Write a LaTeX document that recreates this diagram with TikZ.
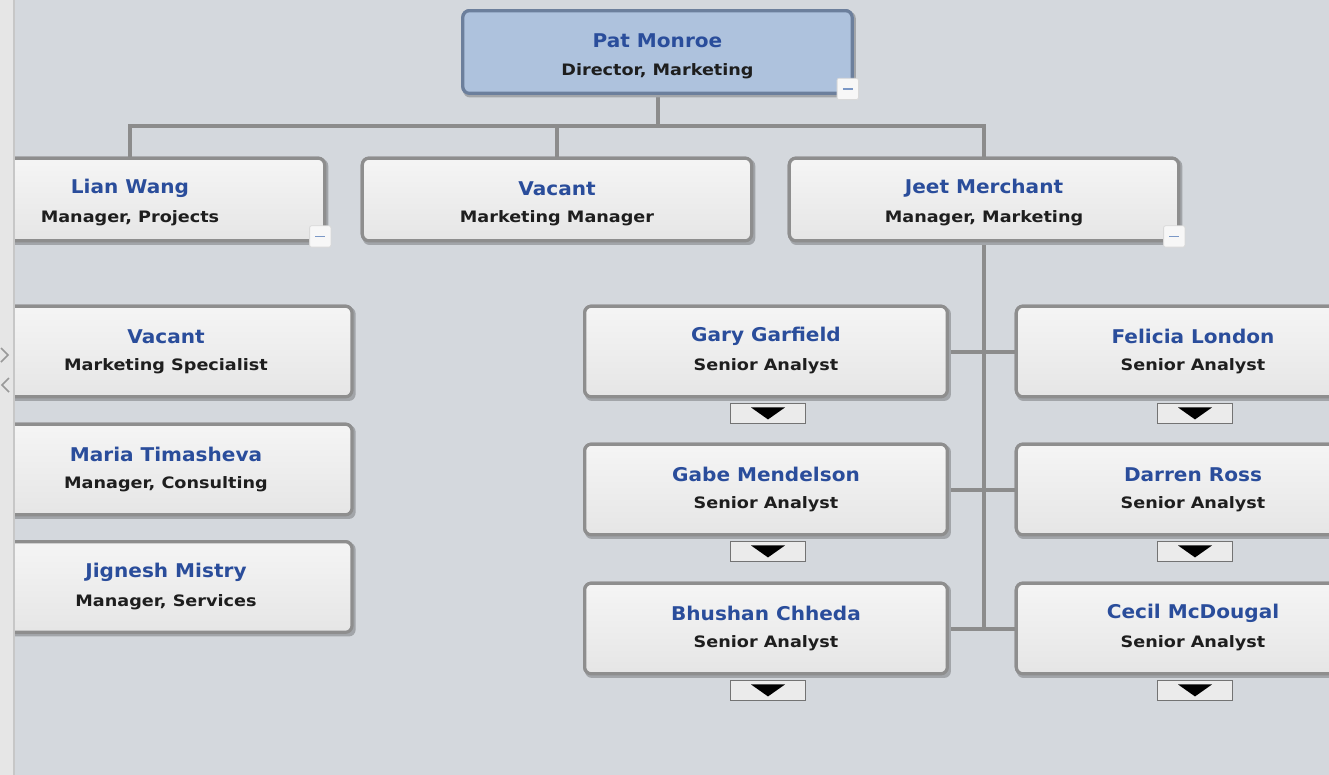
\documentclass[tikz,border=0pt]{standalone}
\usepackage{graphicx}
\usepackage{fontspec}
\newfontfamily\uifont{DejaVu Sans}
\usetikzlibrary{calc}
\definecolor{bgcol}{HTML}{D4D8DD}
\definecolor{stripcol}{HTML}{E6E6E6}
\definecolor{framecol}{HTML}{8E8E8E}
\definecolor{shadowcol}{HTML}{A2A5A9}
\definecolor{namecol}{HTML}{2A4D9B}
\definecolor{titlecol}{HTML}{1E1E1E}
\definecolor{rootfill}{HTML}{AEC2DD}
\definecolor{rootframe}{HTML}{6C7F9C}
\definecolor{linecol}{HTML}{8C8C8C}
\definecolor{mincol}{HTML}{7B98C6}
\tikzset{
  card/.style={draw=framecol, line width=2.4pt, rounded corners=5pt,
    top color=white!96!black, bottom color=white!90!black,
    minimum width=#1, minimum height=68pt, inner sep=0pt},
  card/.default=292pt,
  rootcard/.style={draw=rootframe, line width=2.4pt, rounded corners=5pt,
    fill=rootfill, minimum width=292pt, minimum height=62pt, inner sep=0pt},
  midcard/.style={card, minimum height=62pt},
  nametext/.style={font=\uifont\bfseries\fontsize{14.2pt}{16pt}\selectfont, text=namecol, inner sep=0pt},
  titletext/.style={font=\uifont\bfseries\fontsize{11.8pt}{13pt}\selectfont, text=titlecol, inner sep=0pt},
  connector/.style={draw=linecol, line width=3pt},
  minusbtn/.style={draw=white!85!black, line width=0.6pt, fill=white!97!black,
    rounded corners=1.5pt, minimum size=16pt, inner sep=0pt},
  expander/.style={draw=black!55, line width=0.8pt, fill=white!92!black,
    minimum width=56pt, minimum height=15pt, inner sep=0pt},
}
% place a card's name and title at fixed offsets from its top edge
\newcommand\cardtext[3]{%
  \node[nametext] (#1-name) at ($(#1.north)+(0,32)$) {\scalebox{1.06}[1]{#2}};
  \node[titletext] (#1-title) at ($(#1.north)+(0,62)$) {\scalebox{1.12}[1]{#3}};
}
\newcommand\cardshadow[1]{%
  \fill[shadowcol, rounded corners=5pt] ($(#1.south west)+(2,2.5)$) rectangle ($(#1.north east)+(2,2.5)$);
}
\begin{document}
\begin{tikzpicture}[x=0.75pt, y=-0.75pt]
  \useasboundingbox (0,0) rectangle (1329,775);
  \clip (0,0) rectangle (1329,775);
  \fill[bgcol] (0,0) rectangle (1329,775);

  % --- card centres ------------------------------------------------------
  \path
    (657.5,52)   coordinate (c-pat)
    (130,199.5)  coordinate (c-lian)
    (557,199.5)  coordinate (c-vac)
    (984,199.5)  coordinate (c-jeet)
    (166,351.5)  coordinate (c-spec)
    (166,469.5)  coordinate (c-maria)
    (166,587)    coordinate (c-jig)
    (766,351.5)  coordinate (c-gary)
    (766,489.5)  coordinate (c-gabe)
    (766,628.5)  coordinate (c-bhu)
    (1193,351.5) coordinate (c-fel)
    (1193,489.5) coordinate (c-dar)
    (1193,628.5) coordinate (c-cec);

  % named cards, used as ends of the connectors
  \node[rootcard] (pat) at (c-pat) {};
  \node[midcard, minimum width=292pt] (lian) at (c-lian) {};
  \node[midcard, minimum width=292pt] (vac) at (c-vac) {};
  \node[midcard, minimum width=292pt] (jeet) at (c-jeet) {};
  \node[card=279pt] (spec) at (c-spec) {};
  \node[card=279pt] (maria) at (c-maria) {};
  \node[card=279pt] (jig) at (c-jig) {};
  \node[card=272pt] (gary) at (c-gary) {};
  \node[card=272pt] (gabe) at (c-gabe) {};
  \node[card=272pt] (bhu) at (c-bhu) {};
  \node[card=265pt] (fel) at (c-fel) {};
  \node[card=265pt] (dar) at (c-dar) {};
  \node[card=265pt] (cec) at (c-cec) {};

  \draw[connector] (pat.south) -- ++(0,31) coordinate (bus);
  \draw[connector] (lian.north) |- (bus) -| (jeet.north);
  \draw[connector] (vac.north) -- (vac.north |- bus);
  \draw[connector] (jeet.south) -- (jeet.south |- bhu.east);
  \draw[connector] (gary.east) -- (fel.west);
  \draw[connector] (gabe.east) -- (dar.west);
  \draw[connector] (bhu.east) -- (cec.west);

  % redraw cards over the connectors, with a soft shadow
  \foreach \n in {lian,vac,jeet,spec,maria,jig,gary,gabe,bhu,fel,dar,cec}{\cardshadow{\n}}
  \cardshadow{pat}
  \node[rootcard] at (c-pat) {};
  \node[midcard, minimum width=292pt] at (c-lian) {};
  \node[midcard, minimum width=292pt] at (c-vac) {};
  \node[midcard, minimum width=292pt] at (c-jeet) {};
  \node[card=279pt] at (c-spec) {};
  \node[card=279pt] at (c-maria) {};
  \node[card=279pt] at (c-jig) {};
  \node[card=272pt] at (c-gary) {};
  \node[card=272pt] at (c-gabe) {};
  \node[card=272pt] at (c-bhu) {};
  \node[card=265pt] at (c-fel) {};
  \node[card=265pt] at (c-dar) {};
  \node[card=265pt] at (c-cec) {};

  \cardtext{pat}{Pat Monroe}{Director, Marketing}
  \cardtext{lian}{Lian Wang}{Manager, Projects}
  \cardtext{vac}{Vacant}{Marketing Manager}
  \cardtext{jeet}{Jeet Merchant}{Manager, Marketing}
  \cardtext{spec}{Vacant}{Marketing Specialist}
  \cardtext{maria}{Maria Timasheva}{Manager, Consulting}
  \cardtext{jig}{Jignesh Mistry}{Manager, Services}
  \cardtext{gary}{Gary Garfield}{Senior Analyst}
  \cardtext{gabe}{Gabe Mendelson}{Senior Analyst}
  \cardtext{bhu}{Bhushan Chheda}{Senior Analyst}
  \cardtext{fel}{Felicia London}{Senior Analyst}
  \cardtext{dar}{Darren Ross}{Senior Analyst}
  \cardtext{cec}{Cecil McDougal}{Senior Analyst}

  % collapse buttons
  \foreach \n in {pat,lian,jeet}{
    \node[minusbtn] (\n-min) at ($(\n.south east)+(-6,-6)$) {};
    \draw[mincol, line width=1.3pt] ($(\n-min.center)+(-5,0)$) -- ($(\n-min.center)+(5,0)$);
  }

  % expand buttons
  \foreach \n in {gary,gabe,bhu,fel,dar,cec}{
    \node[expander] (\n-exp) at ($(\n.south)+(2,15)$) {};
    \fill[black] ($(\n-exp.center)+(-17,-6)$) -- ($(\n-exp.center)+(17,-6)$) -- ($(\n-exp.center)+(0,6)$) -- cycle;
  }

  % side panel strip
  \fill[stripcol] (0,0) rectangle (14,775);
  \draw[white!78!black, line width=1pt] (14,0) -- (14,775);
  \draw[black!40, line width=1.1pt] (1,348) -- (8,355) -- (1,362);
  \draw[black!40, line width=1.1pt] (9,378) -- (2,385) -- (9,392);
\end{tikzpicture}
\end{document}
